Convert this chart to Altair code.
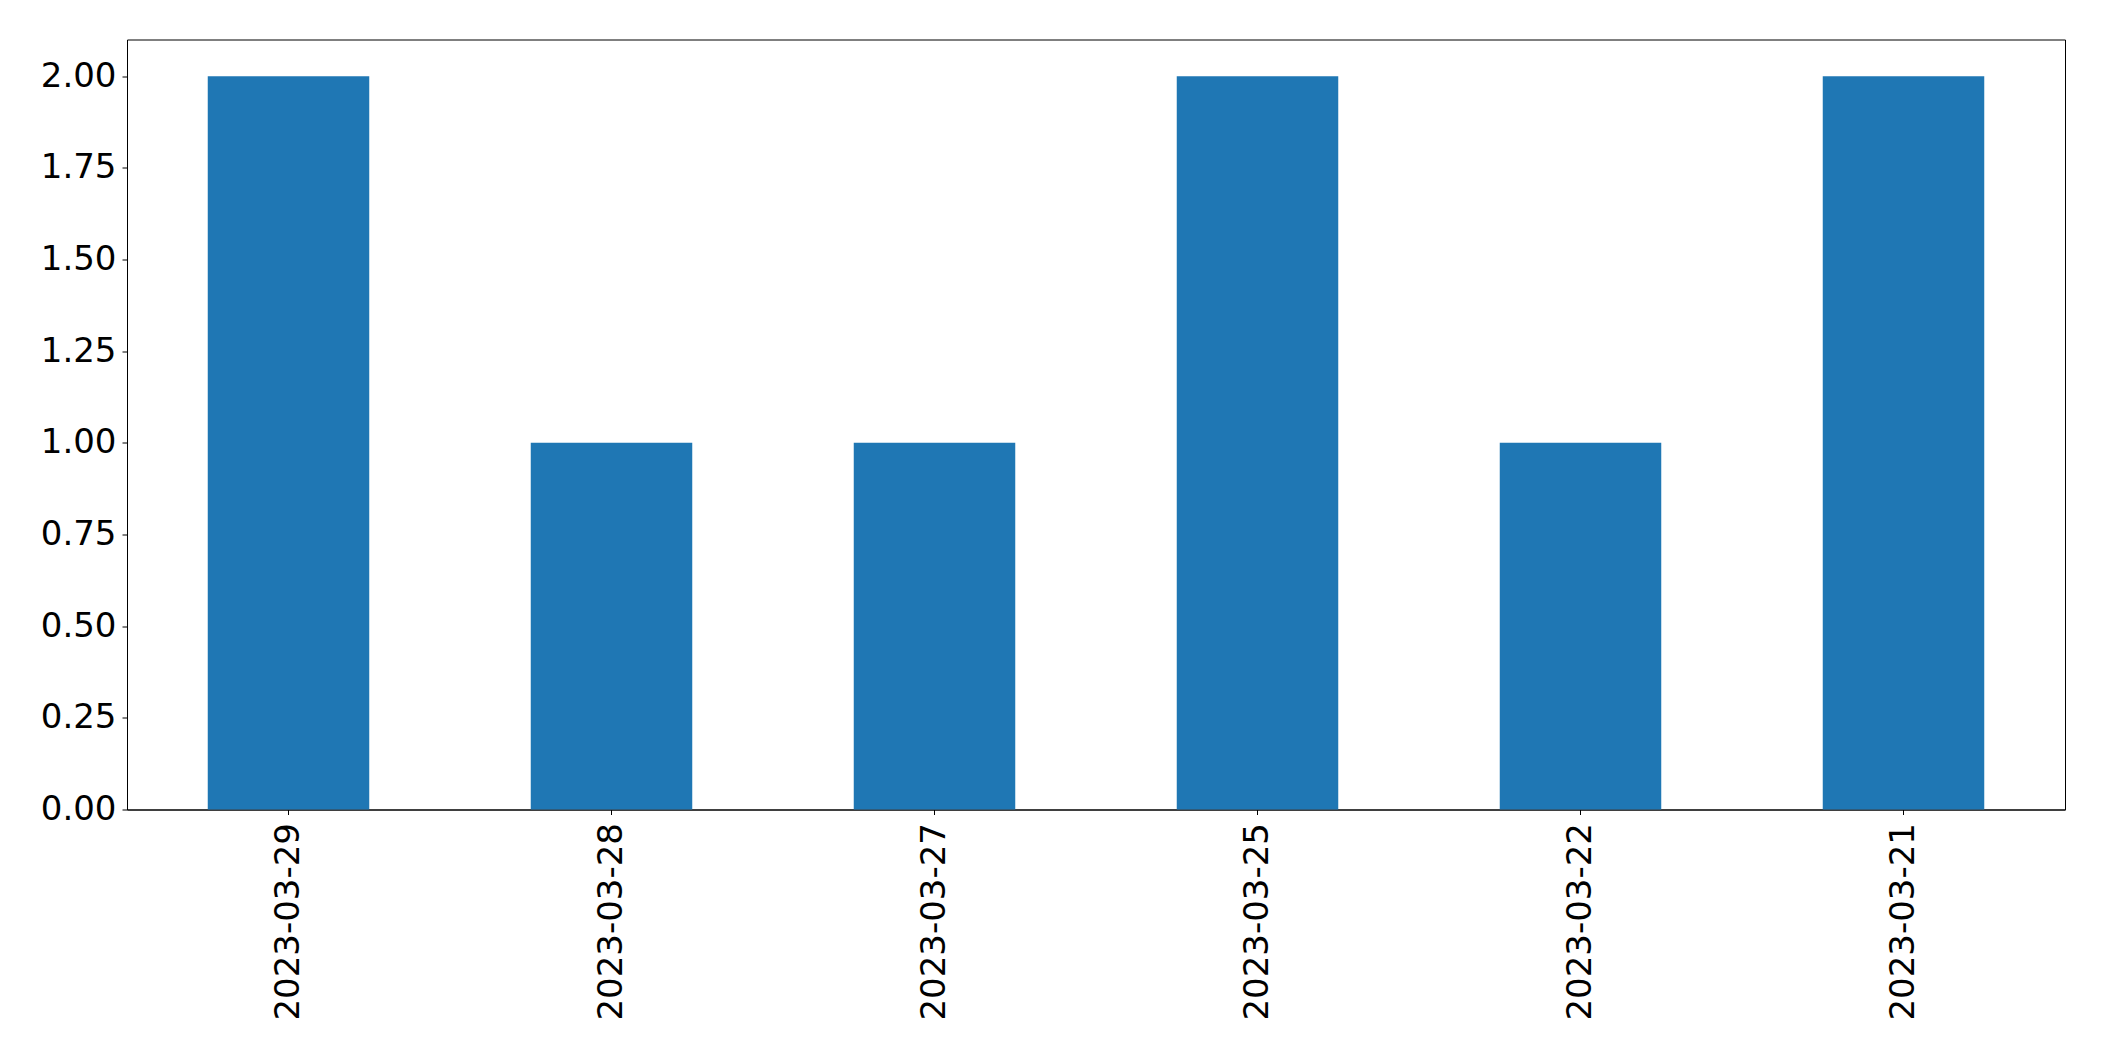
import altair as alt
import pandas as pd

dates = ["2023-03-29", "2023-03-28", "2023-03-27", "2023-03-25", "2023-03-22", "2023-03-21"]
counts = [2, 1, 1, 2, 1, 2]
y_ticks = [0, 0.25, 0.5, 0.75, 1.0, 1.25, 1.5, 1.75, 2.0]

df = pd.DataFrame({"date": dates, "count": counts})

FONT = "DejaVu Sans"
FS = 34

chart = (
    alt.Chart(df)
    .mark_bar(color="#1f77b4")
    .encode(
        x=alt.X(
            "date:N",
            sort=dates,
            title=None,
            scale=alt.Scale(paddingInner=0.5, paddingOuter=0.25),
            axis=alt.Axis(
                labelAngle=-90,
                labelFont=FONT,
                labelFontSize=FS,
                labelColor="black",
                labelPadding=8,
                labelLimit=0,
                tickColor="black",
                tickSize=5,
                tickWidth=1,
                domainColor="black",
                domainWidth=1,
                grid=False,
            ),
        ),
        y=alt.Y(
            "count:Q",
            title=None,
            scale=alt.Scale(domain=[0, 2.1], nice=False, zero=True),
            axis=alt.Axis(
                values=y_ticks,
                format=".2f",
                labelFont=FONT,
                labelFontSize=FS,
                labelColor="black",
                labelPadding=6,
                tickColor="black",
                tickSize=5,
                tickWidth=1,
                domainColor="black",
                domainWidth=1,
                grid=False,
            ),
        ),
    )
    .properties(
        width=1938,
        height=770,
        autosize=alt.AutoSizeParams(type="none"),
        padding={"left": 119, "top": 31.5, "right": 20, "bottom": 230},
    )
    .configure_view(stroke="black", strokeWidth=1)
)

chart.save("out.html", embed_options={"renderer": "svg", "actions": False})
